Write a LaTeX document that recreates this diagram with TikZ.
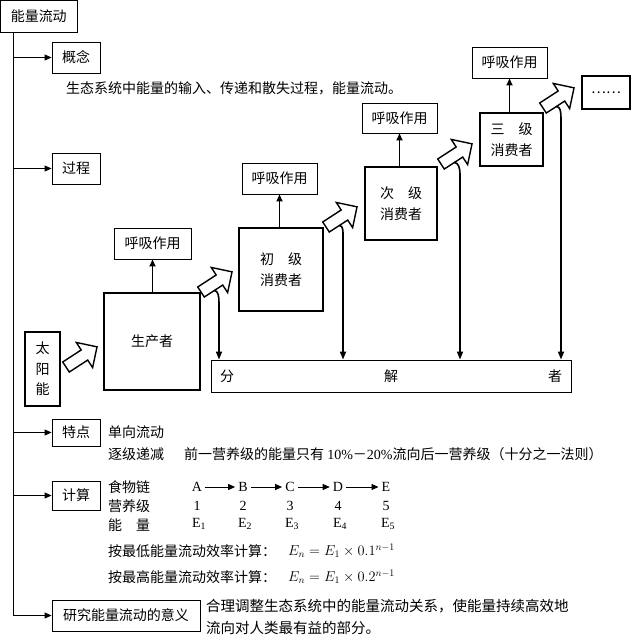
\documentclass[tikz,border=0pt]{standalone}
\usepackage{fontspec}
\setmainfont{Noto Sans CJK SC}
\newfontfamily\lat{Liberation Serif}
\usetikzlibrary{arrows.meta,calc}
\begin{document}
\begin{tikzpicture}[x=1pt,y=-1pt,
  every node/.style={font=\fontsize{14}{17}\selectfont, inner sep=0pt},
  thinbox/.style={draw, line width=0.9pt},
  thickbox/.style={draw, line width=2.2pt},
  twoline/.style={align=center, font=\fontsize{14}{20.5}\selectfont},
  txt/.style={anchor=west},
  lt/.style={font=\fontsize{14}{17}\selectfont\lat, inner xsep=3pt},
  harr/.style={line width=0.9pt, -{Triangle[length=7pt,width=6pt]}},
  resp/.style={line width=1.8pt, -{Triangle[length=7pt,width=6pt]}},
  decl/.style={line width=1.6pt, -{Triangle[length=8pt,width=6pt]}},
  blockarr/.style={draw, fill=white, line width=1.4pt, line join=miter},
  blockarrow/.pic={
    \draw[blockarr] (0,-6) -- (22,-6) -- (22,-15) -- (37,0) -- (22,15) -- (22,6) -- (0,6) -- cycle;
    \coordinate (-b) at (12,6);
  }
]
\useasboundingbox (0,0) rectangle (632,643);

% top and trunk branches
\node[thinbox, minimum width=76.5pt, minimum height=31.5pt] (top) at (38.75,16.25) {能量流动};
\coordinate (trunk) at (13,0);
\node[thinbox, minimum width=48pt, minimum height=31pt] (gn) at (76,57.5) {概念};
\node[txt] (gntext) at (66,88) {生态系统中能量的输入、传递和散失过程，能量流动。};
\node[thinbox, minimum width=48pt, minimum height=31pt] (gc) at (76,168.5) {过程};

% process diagram
\node[thickbox, minimum width=35pt, minimum height=74pt, twoline] (sun) at (42.5,369) {太\\阳\\能};
\node[thickbox, minimum width=96pt, minimum height=97pt] (prod) at (152,341.5) {生产者};
\node[thickbox, minimum width=84pt, minimum height=83pt, twoline] (c1) at (281,269.5) {初　级\\消费者};
\node[thickbox, minimum width=72pt, minimum height=73pt, twoline] (c2) at (401,203.5) {次　级\\消费者};
\node[thickbox, minimum width=63pt, minimum height=53pt, twoline] (c3) at (511.5,139.5) {三　级\\消费者};
\node[thickbox, minimum width=48pt, minimum height=33pt] (more) at (606,92.5) {……};

\node[thinbox, minimum width=77pt, minimum height=31pt] (r1) at (152.5,243.5) {呼吸作用};
\node[thinbox, minimum width=75pt, minimum height=31pt] (r2) at (279.5,178.5) {呼吸作用};
\node[thinbox, minimum width=75pt, minimum height=30pt] (r3) at (399.5,118) {呼吸作用};
\node[thinbox, minimum width=75pt, minimum height=31pt] (r4) at (509.5,62.5) {呼吸作用};
\node[thinbox, minimum width=360pt, minimum height=32pt] (dec) at (391,376) {\makebox[342pt]{分\hfill 解\hfill 者}};

\draw[resp] (r1.south |- prod.north) -- (r1.south);
\draw[resp] (r2.south |- c1.north) -- (r2.south);
\draw[resp] (r3.south |- c2.north) -- (r3.south);
\draw[resp] (r4.south |- c3.north) -- (r4.south);

\coordinate (v2) at (219,303);
\coordinate (v3) at (343,237);
\coordinate (v4) at (460,174);
\coordinate (v5) at (561,118);

\pic[rotate=33] (a1) at (66,367) {blockarrow};
\pic[rotate=33] (a2) at (201,292) {blockarrow};
\pic[rotate=33] (a3) at (326,227) {blockarrow};
\pic[rotate=33] (a4) at (441,164) {blockarrow};
\pic[rotate=33] (a5) at (543,108) {blockarrow};

\draw[decl] (a2-b) .. controls +(4,0) and +(0,-6) .. (v2) -- (v2 |- dec.north);
\draw[decl] (a3-b) .. controls +(4,0) and +(0,-6) .. (v3) -- (v3 |- dec.north);
\draw[decl] (a4-b) .. controls +(4,0) and +(0,-6) .. (v4) -- (v4 |- dec.north);
\draw[decl] (a5-b) .. controls +(4,0) and +(0,-6) .. (v5) -- (v5 |- dec.north);

% features
\node[thinbox, minimum width=48pt, minimum height=27pt] (td) at (76,432.5) {特点};
\node[txt] (td1) at (108,432) {单向流动};
\node[txt] (td2) at (108,454) {逐级递减\hspace{20pt}前一营养级的能量只有 {\lat 10\%}－{\lat 20\%}流向后一营养级（十分之一法则）};

% calculation
\node[thinbox, minimum width=48pt, minimum height=29pt] (js) at (76,495.5) {计算};
\node[txt] (sw) at (108,487) {食物链};
\node[txt] (yy) at (108,506) {营养级};
\node[txt] (nl) at (108,525) {能　量};

\node[lt] (fA) at (197,487) {A};
\node[lt] (fB) at (243,487) {B};
\node[lt] (fC) at (290,487) {C};
\node[lt] (fD) at (338,487) {D};
\node[lt] (fE) at (386,487) {E};
\draw[harr] (fA) -- (fB);
\draw[harr] (fB) -- (fC);
\draw[harr] (fC) -- (fD);
\draw[harr] (fD) -- (fE);

\node[lt] (n1) at (197,506) {1};
\node[lt] (n2) at (243,506) {2};
\node[lt] (n3) at (290,506) {3};
\node[lt] (n4) at (338,506) {4};
\node[lt] (n5) at (386,506) {5};

\node[lt] (e1) at (199,524) {E\textsubscript{1}};
\node[lt] (e2) at (245,524) {E\textsubscript{2}};
\node[lt] (e3) at (292,524) {E\textsubscript{3}};
\node[lt] (e4) at (340,524) {E\textsubscript{4}};
\node[lt] (e5) at (388,524) {E\textsubscript{5}};

\node[txt] (f1) at (108,551) {按最低能量流动效率计算：};
\node[txt] (f1e) at (288,551) {$E_n = E_1\times 0.1^{n-1}$};
\node[txt] (f2) at (108,577) {按最高能量流动效率计算：};
\node[txt] (f2e) at (288,577) {$E_n = E_1\times 0.2^{n-1}$};

% significance
\node[thinbox, minimum width=148pt, minimum height=31pt] (yj) at (126,615.5) {研究能量流动的意义};
\node[txt, font=\fontsize{14.5}{17}\selectfont] (yj1) at (206,606) {合理调整生态系统中的能量流动关系，使能量持续高效地};
\node[txt, font=\fontsize{14.5}{17}\selectfont] (yj2) at (206,628) {流向对人类最有益的部分。};

% trunk and branch arrows
\draw[harr] (trunk |- top.south) |- (yj.west);
\draw[harr] (trunk |- gn.west) -- (gn.west);
\draw[harr] (trunk |- gc.west) -- (gc.west);
\draw[harr] (trunk |- td.west) -- (td.west);
\draw[harr] (trunk |- js.west) -- (js.west);
\end{tikzpicture}
\end{document}
